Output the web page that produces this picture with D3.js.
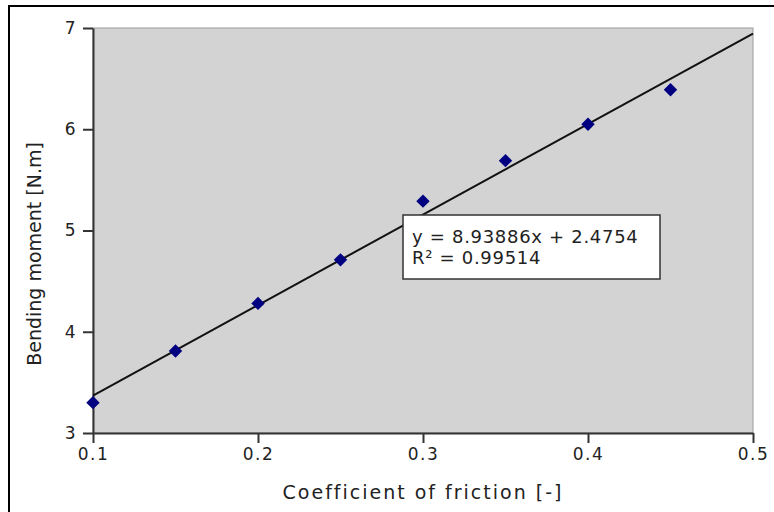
<!DOCTYPE html>
<html>
<head>
<meta charset="utf-8">
<script src="https://d3js.org/d3.v7.min.js"></script>
<style>
body { margin: 0; background: #fff; }
text { font-family: "DejaVu Sans", sans-serif; fill: #222; }
</style>
</head>
<body>
<script>
var w = 774;
var h = 512;

var friction = [0.1, 0.15, 0.2, 0.25, 0.3, 0.35, 0.4, 0.45];
var moment = [3.30, 3.81, 4.28, 4.71, 5.29, 5.69, 6.05, 6.39];
var xTicks = [0.1, 0.2, 0.3, 0.4, 0.5];
var yTicks = [3, 4, 5, 6, 7];
var slope = 8.93886;
var intercept = 2.4754;
var eqLines = ["y = 8.93886x + 2.4754", "R\u00b2 = 0.99514"];

var plot = {left: 93, top: 28, right: 753, bottom: 433};

var svg = d3.select("body")
	.append("svg")
	.attr("width", w)
	.attr("height", h);

// outer frame, runs off the right and bottom of the picture
svg.append("rect")
	.attr("x", 9)
	.attr("y", 6)
	.attr("width", 820)
	.attr("height", 560)
	.attr("fill", "#fff")
	.attr("stroke", "#000")
	.attr("stroke-width", 2);

var x = d3.scaleLinear().domain([0.1, 0.5]).range([plot.left, plot.right]);
var y = d3.scaleLinear().domain([3, 7]).range([plot.bottom, plot.top]);

svg.append("rect")
	.attr("x", plot.left)
	.attr("y", plot.top)
	.attr("width", plot.right - plot.left)
	.attr("height", plot.bottom - plot.top)
	.attr("fill", "#d3d3d3")
	.attr("stroke", "#9a9a9a")
	.attr("stroke-width", 1);

var xAxis = svg.append("g")
	.attr("transform", "translate(0," + plot.bottom + ")")
	.call(d3.axisBottom(x).tickValues(xTicks).tickSize(10).tickSizeOuter(0).tickPadding(5)
		.tickFormat(d3.format(".1f")));
var yAxis = svg.append("g")
	.attr("transform", "translate(" + plot.left + ",0)")
	.call(d3.axisLeft(y).tickValues(yTicks).tickSize(10).tickSizeOuter(0).tickPadding(6)
		.tickFormat(d3.format("d")));

[xAxis, yAxis].forEach(function(a){
	a.select(".domain").attr("stroke", "#333").attr("stroke-width", 2);
	a.selectAll(".tick line").attr("stroke", "#333").attr("stroke-width", 2);
	a.selectAll(".tick text")
		.attr("fill", "#222")
		.style("font-family", "DejaVu Sans, sans-serif")
		.style("font-size", "17px")
		.style("letter-spacing", "1.5px");
});

svg.append("line")
	.attr("x1", x(0.1))
	.attr("y1", y(slope * 0.1 + intercept))
	.attr("x2", x(0.5))
	.attr("y2", y(slope * 0.5 + intercept))
	.attr("stroke", "#111")
	.attr("stroke-width", 2);

var pts = friction.map(function(f, i){
	return {f: f, m: moment[i]};
});
svg.selectAll("path.pt")
	.data(pts)
	.enter()
	.append("path")
	.attr("class", "pt")
	.attr("d", d3.symbol().type(d3.symbolSquare).size(90))
	.attr("transform", function(d){
		return "translate(" + x(d.f) + "," + y(d.m) + ") rotate(45)";
	})
	.attr("fill", "#000080");

// equation box
svg.append("rect")
	.attr("x", 403)
	.attr("y", 215)
	.attr("width", 257)
	.attr("height", 64)
	.attr("fill", "#fff")
	.attr("stroke", "#333")
	.attr("stroke-width", 1.5);
svg.selectAll("text.eq")
	.data(eqLines)
	.enter()
	.append("text")
	.attr("class", "eq")
	.attr("x", 412)
	.attr("y", function(d, i){ return 243 + i * 21; })
	.style("font-size", "18px")
	.style("letter-spacing", "0.7px")
	.text(function(d){ return d; });

svg.append("text")
	.attr("x", x(0.3))
	.attr("y", 499)
	.attr("text-anchor", "middle")
	.style("font-size", "19px")
	.style("letter-spacing", "2px")
	.text("Coefficient of friction [-]");

svg.append("text")
	.attr("transform", "translate(41,254) rotate(-90)")
	.attr("text-anchor", "middle")
	.style("font-size", "19px")
	.text("Bending moment [N.m]");
</script>
</body>
</html>
